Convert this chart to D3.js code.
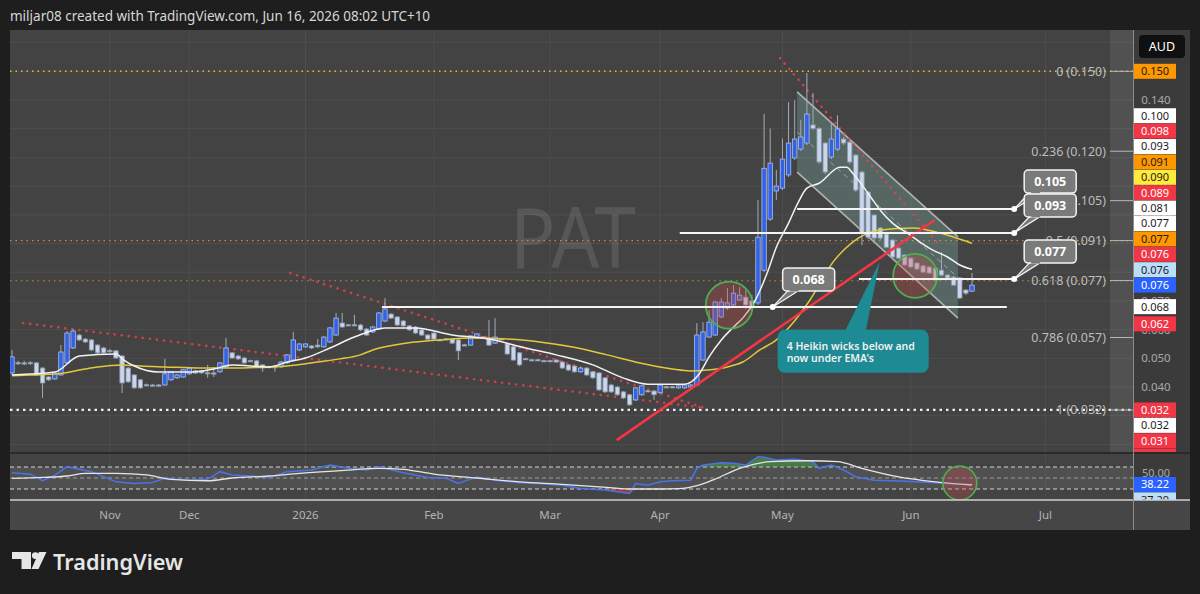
<!DOCTYPE html>
<html>
<head>
<meta charset="utf-8">
<script src="https://cdn.jsdelivr.net/npm/d3@7"></script>
<style>
  html, body { margin: 0; padding: 0; background: #1e1e1e; }
  svg { display: block; font-family: "Noto Sans", "DejaVu Sans", sans-serif; }
</style>
</head>
<body>
<svg id="chart" width="1200" height="594"></svg>
<script>
// ---------------- data ----------------

const header = "miljar08 created with TradingView.com, Jun 16, 2026 08:02 UTC+10";
const symbol = "PAT";
const currency = "AUD";

// Heikin Ashi daily bars: [open, high, low, close]
const candles = [
  [0.0449,0.0529,0.0442,0.0505],[0.0485,0.0491,0.0477,0.0483],[0.0484,0.0491,0.0477,0.0483],[0.0485,0.0490,0.0478,0.0484],
  [0.0484,0.0487,0.0440,0.0442],[0.0466,0.0470,0.0362,0.0414],[0.0435,0.0438,0.0421,0.0425],[0.0428,0.0452,0.0425,0.0449],
  [0.0442,0.0546,0.0440,0.0522],[0.0484,0.0595,0.0480,0.0588],[0.0536,0.0602,0.0532,0.0595],[0.0581,0.0585,0.0560,0.0564],
  [0.0567,0.0571,0.0553,0.0557],[0.0564,0.0567,0.0525,0.0529],[0.0546,0.0550,0.0515,0.0519],[0.0536,0.0540,0.0515,0.0519],
  [0.0527,0.0533,0.0519,0.0525],[0.0526,0.0529,0.0498,0.0501],[0.0508,0.0512,0.0379,0.0414],[0.0466,0.0470,0.0414,0.0418],
  [0.0442,0.0445,0.0393,0.0397],[0.0425,0.0428,0.0393,0.0397],[0.0408,0.0412,0.0403,0.0406],[0.0407,0.0411,0.0403,0.0406],
  [0.0407,0.0410,0.0403,0.0406],[0.0407,0.0498,0.0404,0.0446],[0.0425,0.0456,0.0421,0.0453],[0.0432,0.0446,0.0428,0.0442],
  [0.0435,0.0463,0.0432,0.0460],[0.0446,0.0470,0.0442,0.0466],[0.0449,0.0460,0.0446,0.0456],[0.0456,0.0460,0.0446,0.0449],
  [0.0450,0.0477,0.0432,0.0448],[0.0449,0.0470,0.0435,0.0448],[0.0453,0.0487,0.0449,0.0484],[0.0470,0.0571,0.0466,0.0536],
  [0.0519,0.0522,0.0498,0.0501],[0.0508,0.0512,0.0494,0.0498],[0.0501,0.0505,0.0480,0.0484],[0.0492,0.0495,0.0487,0.0490],
  [0.0491,0.0494,0.0466,0.0470],[0.0477,0.0480,0.0453,0.0466],[0.0471,0.0474,0.0466,0.0469],[0.0471,0.0474,0.0453,0.0469],
  [0.0470,0.0491,0.0466,0.0487],[0.0484,0.0515,0.0480,0.0512],[0.0494,0.0592,0.0491,0.0564],[0.0529,0.0553,0.0525,0.0550],
  [0.0540,0.0553,0.0536,0.0550],[0.0543,0.0546,0.0532,0.0536],[0.0546,0.0567,0.0536,0.0540],[0.0540,0.0578,0.0536,0.0574],
  [0.0557,0.0609,0.0553,0.0606],[0.0581,0.0658,0.0578,0.0640],[0.0623,0.0658,0.0606,0.0609],[0.0617,0.0620,0.0612,0.0615],
  [0.0617,0.0651,0.0612,0.0615],[0.0616,0.0620,0.0595,0.0599],[0.0602,0.0606,0.0578,0.0581],[0.0592,0.0613,0.0588,0.0609],
  [0.0602,0.0661,0.0599,0.0658],[0.0630,0.0710,0.0626,0.0672],[0.0654,0.0658,0.0637,0.0640],[0.0644,0.0647,0.0612,0.0616],
  [0.0630,0.0633,0.0609,0.0613],[0.0613,0.0616,0.0595,0.0599],[0.0609,0.0613,0.0585,0.0588],[0.0599,0.0602,0.0578,0.0581],
  [0.0581,0.0585,0.0564,0.0567],[0.0588,0.0592,0.0564,0.0567],[0.0565,0.0568,0.0560,0.0563],[0.0568,0.0571,0.0564,0.0566],
  [0.0567,0.0571,0.0550,0.0553],[0.0564,0.0567,0.0494,0.0526],[0.0547,0.0550,0.0543,0.0545],[0.0546,0.0581,0.0543,0.0578],
  [0.0571,0.0588,0.0567,0.0585],[0.0575,0.0578,0.0571,0.0573],[0.0571,0.0633,0.0543,0.0546],[0.0553,0.0640,0.0550,0.0574],
  [0.0568,0.0571,0.0564,0.0566],[0.0550,0.0553,0.0512,0.0515],[0.0540,0.0543,0.0491,0.0494],[0.0519,0.0522,0.0473,0.0477],
  [0.0499,0.0502,0.0494,0.0497],[0.0495,0.0498,0.0491,0.0493],[0.0495,0.0498,0.0491,0.0494],[0.0492,0.0495,0.0487,0.0490],
  [0.0492,0.0495,0.0487,0.0490],[0.0494,0.0498,0.0484,0.0487],[0.0487,0.0491,0.0463,0.0466],[0.0477,0.0480,0.0456,0.0459],
  [0.0473,0.0477,0.0449,0.0453],[0.0453,0.0470,0.0449,0.0466],[0.0466,0.0470,0.0438,0.0442],[0.0453,0.0456,0.0428,0.0432],
  [0.0449,0.0452,0.0386,0.0390],[0.0432,0.0435,0.0379,0.0383],[0.0407,0.0411,0.0379,0.0383],[0.0400,0.0404,0.0369,0.0373],
  [0.0383,0.0386,0.0358,0.0362],[0.0373,0.0376,0.0334,0.0338],[0.0355,0.0400,0.0351,0.0397],[0.0373,0.0407,0.0369,0.0404],
  [0.0387,0.0390,0.0383,0.0385],[0.0386,0.0390,0.0355,0.0373],[0.0380,0.0411,0.0376,0.0407],[0.0401,0.0404,0.0397,0.0399],
  [0.0401,0.0404,0.0397,0.0400],[0.0397,0.0407,0.0393,0.0404],[0.0397,0.0411,0.0393,0.0407],[0.0400,0.0411,0.0397,0.0407],
  [0.0407,0.0623,0.0404,0.0581],[0.0494,0.0626,0.0491,0.0592],[0.0574,0.0668,0.0571,0.0626],[0.0581,0.0700,0.0578,0.0696],
  [0.0644,0.0710,0.0640,0.0696],[0.0675,0.0745,0.0668,0.0693],[0.0686,0.0755,0.0679,0.0727],[0.0703,0.0748,0.0700,0.0720],
  [0.0713,0.0738,0.0672,0.0686],[0.0700,0.0720,0.0668,0.0679],[0.0693,0.1051,0.0686,0.0922],[0.0807,0.1352,0.0800,0.1162],
  [0.0985,0.1301,0.0978,0.1180],[0.1083,0.1156,0.1051,0.1100],[0.1093,0.1266,0.1086,0.1194],[0.1139,0.1392,0.1132,0.1250],
  [0.1198,0.1399,0.1191,0.1264],[0.1229,0.1330,0.1222,0.1271],[0.1250,0.1494,0.1243,0.1351],[0.1313,0.1424,0.1295,0.1301],
  [0.1301,0.1305,0.1177,0.1184],[0.1250,0.1253,0.1142,0.1149],[0.1201,0.1323,0.1194,0.1264],[0.1229,0.1347,0.1222,0.1299],
  [0.1264,0.1271,0.1243,0.1250],[0.1253,0.1257,0.1177,0.1184],[0.1208,0.1212,0.1079,0.1086],[0.1149,0.1153,0.0894,0.0936],
  [0.1079,0.1083,0.0915,0.0922],[0.0999,0.1002,0.0912,0.0919],[0.0954,0.0957,0.0912,0.0919],[0.0933,0.0936,0.0884,0.0887],
  [0.0912,0.0915,0.0849,0.0853],[0.0884,0.0887,0.0846,0.0849],[0.0860,0.0863,0.0822,0.0825],[0.0849,0.0853,0.0814,0.0818],
  [0.0832,0.0835,0.0807,0.0811],[0.0822,0.0825,0.0797,0.0800],[0.0818,0.0822,0.0793,0.0797],[0.0814,0.0818,0.0769,0.0773],
  [0.0807,0.0870,0.0786,0.0790],[0.0790,0.0793,0.0776,0.0780],[0.0783,0.0786,0.0752,0.0755],[0.0780,0.0783,0.0706,0.0710],
  [0.0738,0.0741,0.0720,0.0727],[0.0734,0.0797,0.0731,0.0755]
];

// time axis: label and the bar it sits on
const monthLabels = ["Nov", "Dec", "2026", "Feb", "Mar", "Apr", "May", "Jun", "Jul"];
const monthBars = [16, 29, 48, 69, 88, 106, 126, 147, 169];

// moving averages read as [bar, price]
const emaFast = [
  [0,0.0442],[7,0.0452],[11,0.0508],[17,0.0515],[18.3,0.0494],[20,0.0473],[24,0.0452],[29,0.0452],
  [33,0.0463],[36,0.0477],[42,0.0470],[45,0.0487],[48,0.0501],[52,0.0536],[56,0.0574],[61,0.0606],
  [66,0.0606],[72,0.0581],[78,0.0567],[84,0.0536],[89,0.0512],[95,0.0477],[100,0.0431],[104,0.0410],
  [110,0.0410],[112.5,0.0449],[114,0.0505],[116,0.0564],[118,0.0609],[119.5,0.0640],[121.5,0.0700],
  [123.5,0.0797],[125,0.0887],[127,0.0971],[128.5,0.1040],[130,0.1093],[132,0.1110],[135.4,0.1166],
  [136.5,0.1166],[137.5,0.1145],[140,0.1075],[142,0.1016],[144,0.0971],[146.4,0.0936],[148.5,0.0905],
  [150.6,0.0877],[153,0.0853],[155,0.0825],[157,0.0810]
];
const emaSlow = [
  [0,0.0439],[3,0.0442],[7,0.0445],[12,0.0463],[14,0.0470],[18,0.0477],[21,0.0473],[25,0.0470],
  [31,0.0466],[36,0.0466],[42,0.0470],[45,0.0473],[50,0.0487],[53.6,0.0498],[57,0.0512],[59,0.0529],
  [64.6,0.0553],[70,0.0564],[75.4,0.0571],[81,0.0567],[86.3,0.0557],[91.7,0.0539],[97.3,0.0512],
  [102.7,0.0484],[108,0.0463],[111,0.0456],[113.7,0.0459],[117,0.0470],[119.5,0.0487],[122.3,0.0529],
  [125,0.0564],[127.7,0.0623],[130.5,0.0703],[134.3,0.0836],[137.5,0.0905],[142,0.0947],[147.3,0.0954],
  [153,0.0929],[157,0.0901]
];

// RSI pane, [bar, value]
const rsiLine = [
  [0,59.6],[3,57],[5,45],[7,55],[9,70.6],[11,65.8],[13,61.5],[17,43],[20,40],[23,42],[25,49.4],[29,46],
  [32,47.6],[34,61.5],[36,55.5],[39,53.6],[42,51],[45,61.5],[49,64.5],[52,73.6],[55,67.6],[58,64.5],
  [60,70.6],[64,59.6],[68,51],[71,49.4],[73,40],[76,52],[79,46],[83,41.5],[86,40],[90,37],[93,31],
  [97,28],[101,22],[102,40],[104,37],[106,43],[108,45],[111,46],[112,67.6],[113,73.6],[116,77.9],
  [118,76.7],[120,73.6],[122,88.7],[123,87.6],[125,82.7],[128,84],[131,79.6],[132,67.6],[134,73.6],
  [136,64.5],[138,52.4],[141,46],[144,45],[148,43],[151,41.5],[155,38.5],[157,38.22]
];
const rsiMa = [
  [0,49.4],[5,51],[9,53.6],[12,58.5],[17,58.5],[22,55.5],[26,47.6],[32,45],[36,50],[42,53.6],[47,58.5],
  [55,64.5],[60,67.6],[64,65.8],[69,57],[76,50],[83,43],[90,38.5],[96,34],[101,30],[106,30],[109,30.5],
  [112,36],[115,48],[119,67.6],[124,79.6],[130,81.4],[135,79.6],[139,67.6],[145,52],[151,43],[157,37.3]
];
const rsiLevels = [70, 50, 30];

// fib retracement drawn from the top to the low
const fibHigh = 0.150, fibLow = 0.032;
const fibLevels = [0, 0.236, 0.382, 0.5, 0.618, 0.786, 1];
const fibTexts = ["0 (0.150)", "0.236 (0.120)", "0.382 (0.105)", "0.5 (0.091)", "0.618 (0.077)", "0.786 (0.057)", "1 (0.032)"];

// full width dotted price lines
const dottedLevels = [0.150, 0.091, 0.077, 0.032];

// horizontal rays: [fromBar, toBar, price]
const hRays = [[128.4, 163.9, 0.1020], [109.2, 163.9, 0.0937], [138.5, 163.9, 0.0776], [60.5, 162.7, 0.0679]];

// red dotted trend lines: [bar0, price0, bar1, price1]
const dottedTrends = [
  [1.8, 0.0623, 113.3, 0.0327],
  [45.5, 0.0797, 113.3, 0.0327],
  [125.6, 0.1546, 151.3, 0.0905]
];
// solid red uptrend line
const upTrend = [98.9, 0.0215, 150.9, 0.0982];

// descending channel: [bar0, bar1, top0, top1, bottom0, bottom1]
const channel = [128.4, 154.7, 0.1428, 0.0923, 0.1149, 0.0640];

// highlight circles [bar, price] and the one in the RSI pane [bar, rsi]
const circles = [[117.3, 0.0685], [147.7, 0.0787]];
const rsiCircle = [155.0, 40.9];

// price callouts
const calloutBars = [163.9, 163.9, 163.9, 124.4];
const calloutPrices = [0.1020, 0.0937, 0.0776, 0.0679];
const calloutTexts = ["0.105", "0.093", "0.077", "0.068"];

// teal note
const noteAnchor = [141.9, 0.0836];
const noteLines = ["4 Heikin wicks below and", "now under EMA's"];

// price scale badges
const stackUpValues = ["0.100","0.098","0.093","0.091","0.090","0.089","0.081","0.077","0.077","0.076","0.076","0.076"];
const stackUpKinds = ["white","red","white","orange","yellow","red","white","white","orange","red","sky","blue"];
const singleBadges = [[0.150, "orange"], [0.068, "white"], [0.062, "red"]];
const stackDownValues = ["0.032", "0.032", "0.031", "0.030"];
const stackDownKinds = ["red", "white", "red", "red"];
const rsiBadgeValues = ["38.22", "37.29"];
const rsiBadgeKinds = ["blue", "sky"];

// ---------------- drawing ----------------

const svg = d3.select("#chart");
const paneL = 10, paneR = 1133, paneT = 30, paneB = 452;
const rsiT = 454, rsiB = 500, axisB = 530, frameR = 1190;

const x = d3.scaleLinear().domain([0, candles.length - 1]).range([12, 972]);
const y = d3.scaleLinear().domain([0.05, 0.14]).range([358.3, 100]);
const yR = d3.scaleLinear().domain([30, 70]).range([489, 467]);

const badgeColors = {
  orange: ["#ff9800", "#1b1b1b"], red: ["#f23645", "#ffffff"], white: ["#ffffff", "#1b1b1b"],
  yellow: ["#ffeb3b", "#1b1b1b"], sky: ["#bbdefb", "#1b1b1b"], blue: ["#2962ff", "#ffffff"]
};

svg.append("rect").attr("width", 1200).attr("height", 594).attr("fill", "#1e1e1e");

svg.append("text").attr("x", 10).attr("y", 21)
  .attr("fill", "#d6d6d6").attr("font-size", 13.5).text(header);

const defs = svg.append("defs");
function clip(id, x0, y0, w, h) {
  defs.append("clipPath").attr("id", id).append("rect")
    .attr("x", x0).attr("y", y0).attr("width", w).attr("height", h);
}
clip("clipMain", paneL, paneT, paneR - paneL, paneB - paneT);
clip("clipRsi", paneL, rsiT, paneR - paneL, rsiB - rsiT);
clip("clipAxis", paneR, paneT, frameR - paneR, paneB - paneT);
clip("clipAxisRsi", paneR, rsiT, frameR - paneR, rsiB - rsiT);

// pane backgrounds
svg.append("rect").attr("x", paneL).attr("y", paneT).attr("width", paneR - paneL).attr("height", paneB - paneT).attr("fill", "#434343");
svg.append("rect").attr("x", paneL).attr("y", rsiT).attr("width", paneR - paneL).attr("height", rsiB - rsiT).attr("fill", "#434343");
svg.append("rect").attr("x", paneR).attr("y", paneT).attr("width", frameR - paneR).attr("height", rsiB - paneT).attr("fill", "#3b3b3b");
svg.append("rect").attr("x", paneL).attr("y", paneB).attr("width", frameR - paneL).attr("height", rsiT - paneB).attr("fill", "#2a2a2a");
svg.append("rect").attr("x", paneL).attr("y", rsiB).attr("width", frameR - paneL).attr("height", axisB - rsiB).attr("fill", "#464646");

// grid
const grid = svg.append("g").attr("stroke", "#4e4e4e").attr("stroke-width", 1);
[[paneT, paneB], [rsiT, rsiB]].forEach(([t, b]) => {
  grid.append("g").selectAll("line").data(monthBars).join("line")
    .attr("x1", d => x(d)).attr("x2", d => x(d)).attr("y1", t).attr("y2", b);
});
const priceTicks = d3.range(2, 17).map(k => k / 100);
grid.append("g").selectAll("line").data(priceTicks.filter(t => y(t) > paneT && y(t) < paneB)).join("line")
  .attr("x1", paneL).attr("x2", paneR).attr("y1", d => y(d)).attr("y2", d => y(d));

const main = svg.append("g").attr("clip-path", "url(#clipMain)");

// fib strip near the scale
main.append("rect").attr("x", 1110).attr("y", paneT).attr("width", paneR - 1110).attr("height", paneB - paneT)
  .attr("fill", "rgba(255,255,255,0.08)");

// watermark
main.append("text").attr("x", 573).attr("y", 268).attr("text-anchor", "middle")
  .attr("font-size", 84).attr("textLength", 126).attr("lengthAdjust", "spacingAndGlyphs")
  .attr("fill", "rgba(255,255,255,0.11)").text(symbol);

// dotted price lines
const dottedStyles = [["#e6c01e", 1.6, "1.5,4"], ["#d2873a", 1.1, "1.5,4"], ["#d2873a", 1.1, "1.5,4"], ["#f0f0f0", 2.2, "2.5,4"]];
main.append("g").selectAll("line").data(dottedLevels).join("line")
  .attr("x1", paneL).attr("x2", paneR).attr("y1", d => y(d)).attr("y2", d => y(d))
  .attr("stroke", (d, i) => dottedStyles[i][0]).attr("stroke-width", (d, i) => dottedStyles[i][1])
  .attr("stroke-dasharray", (d, i) => dottedStyles[i][2]);

// fib labels and their short lines (under the callouts)
const fibPrice = l => fibHigh - l * (fibHigh - fibLow);
main.append("g").selectAll("line").data(fibLevels).join("line")
  .attr("x1", 1110).attr("x2", paneR).attr("y1", d => y(fibPrice(d))).attr("y2", d => y(fibPrice(d)))
  .attr("stroke", "#b8b8b8").attr("stroke-width", 1);
main.append("g").selectAll("text").data(fibLevels).join("text")
  .attr("x", 1106).attr("y", d => y(fibPrice(d))).attr("dy", "0.35em").attr("text-anchor", "end")
  .attr("font-size", 12.5).attr("fill", "#bdbdbd").text((d, i) => fibTexts[i]);

// descending channel
const line = d3.line().x(d => x(d[0])).y(d => y(d[1]));
const [c0, c1, t0, t1, b0, b1] = channel;
main.append("path").attr("d", line([[c0, t0], [c1, t1], [c1, b1], [c0, b0]]) + "Z")
  .attr("fill", "rgba(125,175,165,0.33)");
main.append("path").attr("d", line([[c0, t0], [c1, t1]])).attr("stroke", "rgba(210,210,210,0.75)").attr("stroke-width", 1.6).attr("fill", "none");
main.append("path").attr("d", line([[c0, b0], [c1, b1]])).attr("stroke", "rgba(210,210,210,0.75)").attr("stroke-width", 1.6).attr("fill", "none");
main.append("path").attr("d", line([[c0, (t0 + b0) / 2], [c1, (t1 + b1) / 2]]))
  .attr("stroke", "rgba(210,210,210,0.55)").attr("stroke-width", 1).attr("stroke-dasharray", "5,4").attr("fill", "none");

// red dotted trend lines
main.append("g").selectAll("path").data(dottedTrends).join("path")
  .attr("d", d => line([[d[0], d[1]], [d[2], d[3]]]))
  .attr("stroke", "#e8404f").attr("stroke-opacity", 0.85).attr("stroke-width", 2.6)
  .attr("stroke-linecap", "round").attr("stroke-dasharray", "0.1,7").attr("fill", "none");

// candles
const gC = main.append("g");
gC.selectAll("line").data(candles).join("line")
  .attr("x1", (d, i) => x(i)).attr("x2", (d, i) => x(i))
  .attr("y1", d => y(d[1])).attr("y2", d => y(d[2]))
  .attr("stroke", "#a3abba").attr("stroke-width", 1);
gC.selectAll("rect").data(candles).join("rect")
  .attr("x", (d, i) => x(i) - 2.2).attr("width", 4.4)
  .attr("y", d => y(Math.max(d[0], d[3])))
  .attr("height", d => Math.max(1.2, Math.abs(y(d[0]) - y(d[3]))))
  .attr("fill", d => d[3] >= d[0] ? "#3363e4" : "#c9d6ec")
  .attr("stroke", d => d[3] >= d[0] ? "#a9bef2" : "#8d99ad").attr("stroke-width", 0.8);

// moving averages
const curve = d3.line().x(d => x(d[0])).y(d => y(d[1])).curve(d3.curveMonotoneX);
main.append("path").attr("d", curve(emaSlow)).attr("stroke", "#e2c93a").attr("stroke-width", 1.5).attr("fill", "none");
main.append("path").attr("d", curve(emaFast)).attr("stroke", "#f2f2f2").attr("stroke-width", 1.5).attr("fill", "none");

// highlight circles
main.append("g").selectAll("circle").data(circles).join("circle")
  .attr("cx", d => x(d[0])).attr("cy", d => y(d[1])).attr("r", (d, i) => i === 0 ? 23.5 : 22)
  .attr("fill", "rgba(200,75,75,0.32)").attr("stroke", "#4caf50").attr("stroke-width", 1.8);

// solid red uptrend
main.append("path").attr("d", line([[upTrend[0], upTrend[1]], [upTrend[2], upTrend[3]]]))
  .attr("stroke", "#f23645").attr("stroke-width", 2.6).attr("fill", "none");

// white rays
main.append("g").selectAll("line").data(hRays).join("line")
  .attr("x1", d => x(d[0])).attr("x2", d => x(d[1])).attr("y1", d => y(d[2])).attr("y2", d => y(d[2]))
  .attr("stroke", "#f4f4f4").attr("stroke-width", 2);

// teal note
{
  const ax = x(noteAnchor[0]), ay = y(noteAnchor[1]);
  const bx = ax - 102, by = ay + 68, bw = 151, bh = 43;
  const g = main.append("g");
  g.append("path").attr("d", `M${ax - 35},${by + 2}L${ax},${ay}L${ax - 14},${by + 2}Z`).attr("fill", "#1d8a94");
  g.append("rect").attr("x", bx).attr("y", by).attr("width", bw).attr("height", bh).attr("rx", 7).attr("fill", "#1d8a94");
  g.selectAll("text").data(noteLines).join("text")
    .attr("x", bx + 9).attr("y", (d, i) => by + 20 + i * 12)
    .attr("font-size", 10.5).attr("font-weight", 600).attr("fill", "#f0f0f0").text(d => d);
}

// grey price callouts
calloutBars.forEach((b, i) => {
  const px = x(b), py = y(calloutPrices[i]);
  const bx = px + 10, by = py - 39, bw = 52, bh = 23;
  const g = main.append("g");
  g.append("path").attr("d", `M${bx + 6},${by + bh - 1}L${px},${py}L${bx + 17},${by + bh - 1}Z`)
    .attr("fill", "#7a7a7a").attr("stroke", "#f4f4f4").attr("stroke-width", 1.3);
  g.append("rect").attr("x", bx).attr("y", by).attr("width", bw).attr("height", bh).attr("rx", 4)
    .attr("fill", "#7a7a7a").attr("stroke", "#f4f4f4").attr("stroke-width", 1.5);
  g.append("path").attr("d", `M${bx + 7},${by + bh - 0.5}L${bx + 16},${by + bh - 0.5}`).attr("stroke", "#7a7a7a").attr("stroke-width", 2);
  g.append("text").attr("x", bx + bw / 2).attr("y", by + bh / 2).attr("dy", "0.36em").attr("text-anchor", "middle")
    .attr("font-size", 12.5).attr("font-weight", 700).attr("fill", "#ffffff").text(calloutTexts[i]);
  g.append("circle").attr("cx", px).attr("cy", py).attr("r", 3).attr("fill", "#ffffff");
});

// price scale: badge positions first, then the ticks they leave visible
const step = 15.4;
const lastClose = candles[candles.length - 1][3];
const badges = [];
singleBadges.forEach(([v, k]) => badges.push([y(v), v.toFixed(3), k]));
stackUpValues.forEach((v, i) => badges.push([y(lastClose) - (stackUpValues.length - 1 - i) * step, v, stackUpKinds[i]]));
stackDownValues.forEach((v, i) => badges.push([y(fibLow) + i * step, v, stackDownKinds[i]]));

const axisG = svg.append("g").attr("clip-path", "url(#clipAxis)");
const freeTicks = priceTicks.filter(t => y(t) > 62 && badges.every(b => Math.abs(b[0] - y(t)) > 5.5));
axisG.append("g").selectAll("text").data(freeTicks).join("text")
  .attr("x", 1156).attr("y", d => y(d)).attr("dy", "0.35em").attr("text-anchor", "middle")
  .attr("font-size", 11.5).attr("fill", "#a9a9a9").text(d => d.toFixed(3));

function badge(g, yc, label, kind) {
  const [bg, fg] = badgeColors[kind];
  g.append("rect").attr("x", paneR + 1).attr("y", yc - 7.5).attr("width", 42).attr("height", 15).attr("fill", bg);
  g.append("text").attr("x", paneR + 22).attr("y", yc).attr("dy", "0.36em").attr("text-anchor", "middle")
    .attr("font-size", 11).attr("fill", fg).text(label);
}
badges.forEach(b => badge(axisG, b[0], b[1], b[2]));

// currency box
svg.append("rect").attr("x", 1139).attr("y", 35).attr("width", 46).attr("height", 23).attr("rx", 4).attr("fill", "#101010");
svg.append("text").attr("x", 1162).attr("y", 46.5).attr("dy", "0.36em").attr("text-anchor", "middle")
  .attr("font-size", 12.5).attr("fill", "#ffffff").text(currency);

// RSI pane
const rsiG = svg.append("g").attr("clip-path", "url(#clipRsi)");
rsiG.append("rect").attr("x", paneL).attr("y", yR(70)).attr("width", paneR - paneL).attr("height", yR(30) - yR(70))
  .attr("fill", "rgba(255,255,255,0.07)");
rsiG.append("g").selectAll("line").data(rsiLevels).join("line")
  .attr("x1", paneL).attr("x2", paneR).attr("y1", d => yR(d)).attr("y2", d => yR(d))
  .attr("stroke", d => d === 50 ? "rgba(220,220,220,0.55)" : "#d4d4d4").attr("stroke-width", 1.2)
  .attr("stroke-dasharray", "4,3");
const rx = d => x(d[0]);
rsiG.append("path").attr("d", d3.area().x(rx).y0(yR(70)).y1(d => yR(Math.max(70, d[1])))(rsiLine))
  .attr("fill", "rgba(76,175,80,0.5)");
rsiG.append("path").attr("d", d3.area().x(rx).y0(yR(30)).y1(d => yR(Math.min(30, d[1])))(rsiLine))
  .attr("fill", "rgba(242,54,69,0.5)");
rsiG.append("path").attr("d", d3.line().x(rx).y(d => yR(d[1]))(rsiLine))
  .attr("stroke", "#4a73e8").attr("stroke-width", 1.5).attr("fill", "none");
rsiG.append("path").attr("d", d3.line().x(rx).y(d => yR(d[1])).curve(d3.curveMonotoneX)(rsiMa))
  .attr("stroke", "#e6e6e6").attr("stroke-width", 1.3).attr("fill", "none");
rsiG.append("circle").attr("cx", x(rsiCircle[0])).attr("cy", yR(rsiCircle[1])).attr("r", 17)
  .attr("fill", "rgba(200,75,75,0.32)").attr("stroke", "#4caf50").attr("stroke-width", 1.6);

const axisR = svg.append("g").attr("clip-path", "url(#clipAxisRsi)");
axisR.append("text").attr("x", 1156).attr("y", yR(50) - 5).attr("dy", "0.35em").attr("text-anchor", "middle")
  .attr("font-size", 11).attr("fill", "#a9a9a9").text("50.00");
rsiBadgeValues.forEach((v, i) => badge(axisR, yR(+rsiBadgeValues[0]) + i * step, v, rsiBadgeKinds[i]));

// separators
svg.append("line").attr("x1", paneL).attr("x2", frameR).attr("y1", rsiB).attr("y2", rsiB).attr("stroke", "#d0d0d0").attr("stroke-width", 1.5);
svg.append("line").attr("x1", paneR + 0.5).attr("x2", paneR + 0.5).attr("y1", paneT).attr("y2", axisB).attr("stroke", "#8c8c8c").attr("stroke-width", 1);

// time axis
svg.append("g").selectAll("text").data(monthBars).join("text")
  .attr("x", d => x(d)).attr("y", 519).attr("text-anchor", "middle")
  .attr("font-size", 11.5).attr("fill", "#b4b4b4").text((d, i) => monthLabels[i]);

// logo
const logo = svg.append("g").attr("fill", "#e6e6e6");
logo.append("path").attr("d", "M12,552H31V569H21.5V559H12Z");
logo.append("circle").attr("cx", 35.3).attr("cy", 555.6).attr("r", 3.4);
logo.append("path").attr("d", "M39,552H46.5L38.5,569H31.5Z");
svg.append("text").attr("x", 53).attr("y", 570).attr("font-size", 22).attr("font-weight", 600)
  .attr("textLength", 130).attr("lengthAdjust", "spacingAndGlyphs")
  .attr("fill", "#e6e6e6").text("TradingView");
</script>
</body>
</html>
